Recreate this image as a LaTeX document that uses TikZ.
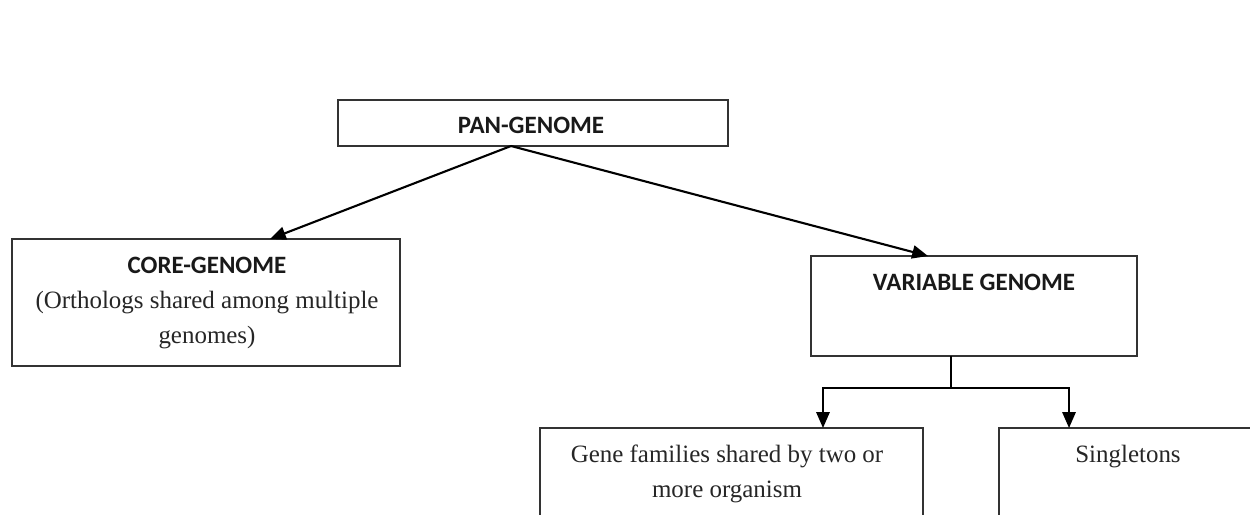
\documentclass[tikz,border=0pt]{standalone}
\usepackage{fontspec}
\setmainfont{Liberation Serif}
\newfontfamily\headfont{Carlito}
\usetikzlibrary{arrows.meta}
\begin{document}
\begin{tikzpicture}[x=0.02cm,y=-0.02cm,
  box/.style={draw=black!80, line width=1.1pt, rectangle, inner sep=0pt, outer sep=0pt},
  head/.style={font=\headfont\bfseries\fontsize{14.2}{19.8}\selectfont, anchor=base, inner sep=0pt, text=black!90},
  body/.style={font=\fontsize{14.2}{19.8}\selectfont, anchor=base, inner sep=0pt, text=black!85},
  conn/.style={line width=1.2pt, -{Triangle[length=9pt,width=7.5pt]}},
  link/.style={line width=1.2pt}]
\useasboundingbox (0,0) rectangle (1250,514);
\fill[white] (0,0) rectangle (1250,514);
\begin{scope}
\clip (0,0) rectangle (1250,514);
% boxes
\node[box, minimum width=7.8cm, minimum height=0.92cm] (pan) at (533,123) {};
\node[box, minimum width=7.76cm, minimum height=2.54cm] (core) at (206,302.5) {};
\node[box, minimum width=6.52cm, minimum height=2cm] (var) at (974,306) {};
\node[box, minimum width=7.66cm, minimum height=2.8cm] (gene) at (731.5,498) {};
\node[box, minimum width=5.16cm, minimum height=2.8cm] (single) at (1128,498) {};
% texts
\node[head] (pant) at (531,133) {PAN-GENOME};
\node[head] (coret) at (207,273) {CORE-GENOME};
\node[body] (core1) at (207,308) {(Orthologs shared among multiple};
\node[body] (core2) at (207,343) {genomes)};
\node[head] (vart) at (974,290) {VARIABLE GENOME};
\node[body] (gene1) at (727,462) {Gene families shared by two or};
\node[body] (gene2) at (727,497) {more organism};
\node[body] (singt) at (1128,462) {Singletons};
% connectors
\coordinate (apex) at ([xshift=-0.44cm]pan.south);
\draw[conn] (apex) -- ([xshift=5.16cm]core.north west);
\draw[conn] (apex) -- ([xshift=2.34cm]var.north west);
\draw[link] ([xshift=-0.46cm]var.south) -- ++(0,32) coordinate (branch);
\draw[conn] (branch) -| ([xshift=1.83cm]gene.north);
\draw[conn] (branch) -| ([xshift=-1.18cm]single.north);
\end{scope}
\end{tikzpicture}
\end{document}
